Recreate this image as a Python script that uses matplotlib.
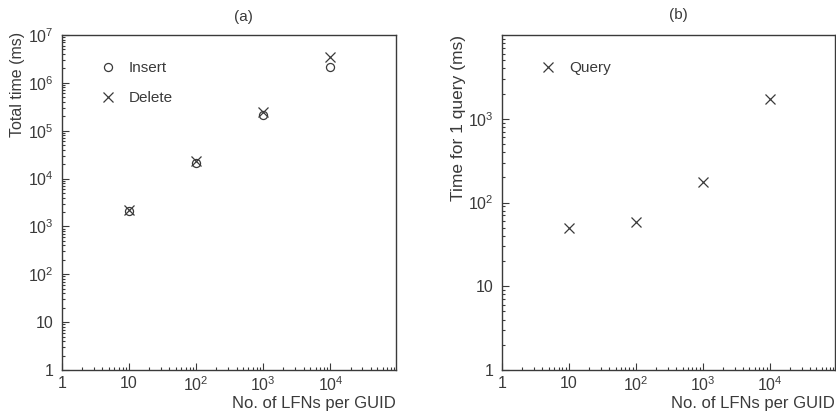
import matplotlib
matplotlib.use("Agg")
import matplotlib.pyplot as plt
from matplotlib.ticker import FixedLocator, FixedFormatter, LogLocator, NullFormatter

plt.rcParams['font.family'] = ['Liberation Sans', 'DejaVu Sans']
plt.rcParams['mathtext.fontset'] = 'custom'
plt.rcParams['mathtext.rm'] = 'Liberation Sans'
plt.rcParams['mathtext.default'] = 'regular'

# Data
lfns = [10, 100, 1000, 10000]
insert_ms = [2100, 21000, 210000, 2100000]
delete_ms = [2250, 23000, 250000, 3400000]
query_ms = [49, 59, 178, 1740]

x_ticks = [1, 10, 100, 1000, 10000]
x_labels = ['1', '10', '$10^{2}$', '$10^{3}$', '$10^{4}$']
ya_ticks = [1, 10, 100, 1e3, 1e4, 1e5, 1e6, 1e7]
ya_labels = ['1', '10', '$10^{2}$', '$10^{3}$', '$10^{4}$', '$10^{5}$', '$10^{6}$', '$10^{7}$']
yb_ticks = [1, 10, 100, 1e3]
yb_labels = ['1', '10', '$10^{2}$', '$10^{3}$']

C = '#3a3a3a'
W, H = 837, 412
fig = plt.figure(figsize=(W / 100, H / 100), dpi=100)

def make_ax(l, r, t, b):
    return fig.add_axes([l / W, 1 - b / H, (r - l) / W, (b - t) / H])

axa = make_ax(62, 396, 35, 370)
axb = make_ax(502, 835, 35, 370)

def style(ax, ylim, yt, yl):
    ax.set_xscale('log')
    ax.set_yscale('log')
    ax.set_xlim(1, 9.5e4)
    ax.set_ylim(*ylim)
    ax.xaxis.set_major_locator(FixedLocator(x_ticks))
    ax.xaxis.set_major_formatter(FixedFormatter(x_labels))
    ax.yaxis.set_major_locator(FixedLocator(yt))
    ax.yaxis.set_major_formatter(FixedFormatter(yl))
    ax.xaxis.set_minor_locator(LogLocator(base=10, subs=range(2, 10), numticks=20))
    ax.yaxis.set_minor_locator(LogLocator(base=10, subs=range(2, 10), numticks=20))
    ax.xaxis.set_minor_formatter(NullFormatter())
    ax.yaxis.set_minor_formatter(NullFormatter())
    ax.tick_params(which='both', direction='in', top=False, right=False, color=C,
                   labelcolor=C, labelsize=11.5, width=0.8)
    ax.tick_params(which='major', length=5)
    ax.tick_params(which='minor', length=2.5)
    ax.tick_params(axis='x', pad=4)
    ax.tick_params(axis='y', pad=6)
    for s in ax.spines.values():
        s.set_color(C)
        s.set_linewidth(1.0)

style(axa, (1, 1e7), ya_ticks, ya_labels)
style(axb, (1, 1e4), yb_ticks, yb_labels)

axa.plot(lfns, insert_ms, linestyle='none', marker='o', mfc='none', mec=C, ms=5.8, mew=0.9, label='Insert')
axa.plot(lfns, delete_ms, linestyle='none', marker='x', color=C, ms=6.8, mew=0.9, label='Delete')
axb.plot(lfns, query_ms, linestyle='none', marker='x', color=C, ms=6.8, mew=0.9, label='Query')

for ax in (axa, axb):
    ax.legend(loc='upper left', bbox_to_anchor=(0.07, 0.963), frameon=False,
              fontsize=11, labelspacing=1.05, handletextpad=0.75, handlelength=1.2,
              labelcolor=C)

axa.text(0.542, 1.054, '(a)', transform=axa.transAxes, ha='center', va='center', fontsize=11, color=C)
axb.text(0.529, 1.060, '(b)', transform=axb.transAxes, ha='center', va='center', fontsize=11, color=C)

for ax in (axa, axb):
    ax.set_xlabel('No. of LFNs per GUID', fontsize=12, color=C, ha='right', va='top')
    ax.xaxis.set_label_coords(1.0, -0.077)

axa.set_ylabel('Total time (ms)', fontsize=11.5, color=C, ha='right', va='center')
axa.yaxis.set_label_coords((18 - 62) / 334, (370 - 32) / 335)
axb.set_ylabel('Time for 1 query (ms)', fontsize=12.5, color=C, ha='right', va='center')
axb.yaxis.set_label_coords((459 - 502) / 333, (370 - 35) / 335)

fig.savefig('out.png', dpi=100)
